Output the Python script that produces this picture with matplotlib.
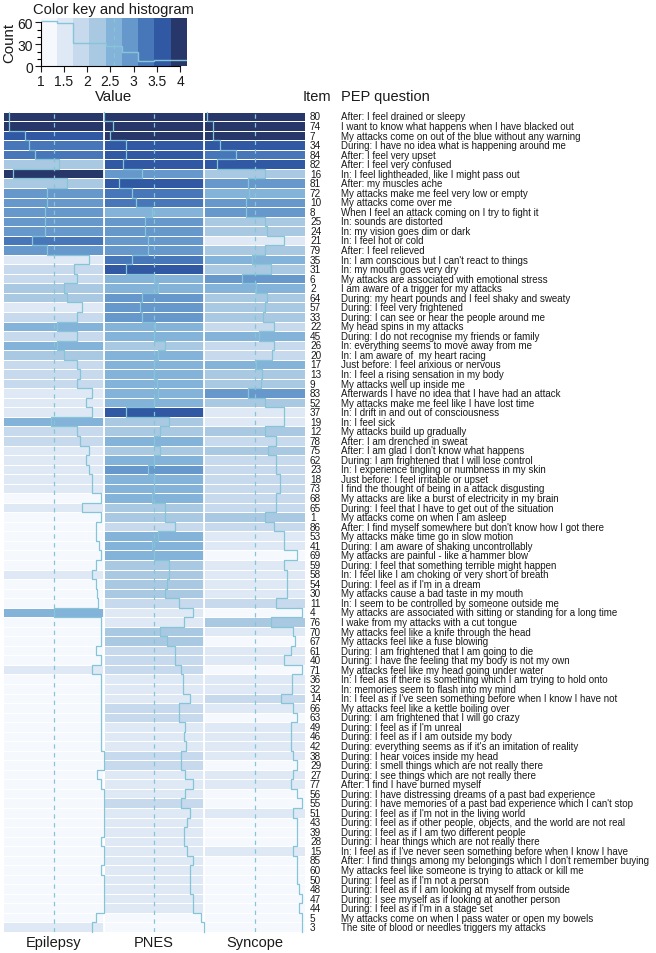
import numpy as np
import matplotlib
matplotlib.use("Agg")
import matplotlib.pyplot as plt
from matplotlib import font_manager as fm
from matplotlib.colors import ListedColormap, BoundaryNorm

# drop the narrow variant so "Liberation Sans" resolves to the regular width
fm.fontManager.ttflist = [f for f in fm.fontManager.ttflist if 'Narrow' not in f.fname]
plt.rcParams['font.family'] = ['Liberation Sans', 'DejaVu Sans']

# item numbers, top to bottom
items = [80, 74, 7, 34, 84, 82, 16, 81, 72, 10, 8, 25, 24, 21, 79, 35, 31, 6, 2, 64,
         57, 33, 22, 45, 26, 20, 17, 13, 9, 83, 52, 37, 19, 12, 78, 75, 62, 23, 18, 73,
         68, 65, 1, 86, 53, 41, 69, 59, 58, 54, 30, 11, 4, 76, 70, 67, 61, 40, 71, 36,
         32, 14, 66, 63, 49, 46, 42, 38, 29, 27, 77, 56, 55, 51, 43, 39, 28, 15, 85, 60,
         50, 48, 47, 44, 5, 3]

questions = [
    "After: I feel drained or sleepy",
    "I want to know what happens when I have blacked out",
    "My attacks come on out of the blue without any warning",
    "During: I have no idea what is happening around me",
    "After: I feel very upset",
    "After: I feel very confused",
    "In: I feel lightheaded, like I might pass out",
    "After: my muscles ache",
    "My attacks make me feel very low or empty",
    "My attacks come over me",
    "When I feel an attack coming on I try to fight it",
    "In: sounds are distorted",
    "In: my vision goes dim or dark",
    "In: I feel hot or cold",
    "After: I feel relieved",
    "In: I am conscious but I can't react to things",
    "In: my mouth goes very dry",
    "My attacks are associated with emotional stress",
    "I am aware of a trigger for my attacks",
    "During: my heart pounds and I feel shaky and sweaty",
    "During: I feel very frightened",
    "During: I can see or hear the people around me",
    "My head spins in my attacks",
    "During: I do not recognise my friends or family",
    "In: everything seems to move away from me",
    "In: I am aware of  my heart racing",
    "Just before: I feel anxious or nervous",
    "In: I feel a rising sensation in my body",
    "My attacks well up inside me",
    "Afterwards I have no idea that I have had an attack",
    "My attacks make me feel like I have lost time",
    "In: I drift in and out of consciousness",
    "In: I feel sick",
    "My attacks build up gradually",
    "After: I am drenched in sweat",
    "After: I am glad I don't know what happens",
    "During: I am frightened that I will lose control",
    "In: I experience tingling or numbness in my skin",
    "Just before: I feel irritable or upset",
    "I find the thought of being in a attack disgusting",
    "My attacks are like a burst of electricity in my brain",
    "During: I feel that I have to get out of the situation",
    "My attacks come on when I am asleep",
    "After: I find myself somewhere but don't know how I got there",
    "My attacks make time go in slow motion",
    "During: I am aware of shaking uncontrollably",
    "My attacks are painful - like a hammer blow",
    "During: I feel that something terrible might happen",
    "In: I feel like I am choking or very short of breath",
    "During: I feel as if I'm in a dream",
    "My attacks cause a bad taste in my mouth",
    "In: I seem to be controlled by someone outside me",
    "My attacks are associated with sitting or standing for a long time",
    "I wake from my attacks with a cut tongue",
    "My attacks feel like a knife through the head",
    "My attacks feel like a fuse blowing",
    "During: I am frightened that I am going to die",
    "During: I have the feeling that my body is not my own",
    "My attacks feel like my head going under water",
    "In: I feel as if there is something which I am trying to hold onto",
    "In: memories seem to flash into my mind",
    "In: I feel as if I've seen something before when I know I have not",
    "My attacks feel like a kettle boiling over",
    "During: I am frightened that I will go crazy",
    "During: I feel as if I'm unreal",
    "During: I feel as if I am outside my body",
    "During: everything seems as if it's an imitation of reality",
    "During: I hear voices inside my head",
    "During: I smell things which are not really there",
    "During: I see things which are not really there",
    "After: I find I have burned myself",
    "During: I have distressing dreams of a past bad experience",
    "During: I have memories of a past bad experience which I can't stop",
    "During: I feel as if I'm not in the living world",
    "During: I feel as if other people, objects, and the world are not real",
    "During: I feel as if I am two different people",
    "During: I hear things which are not really there",
    "In: I feel as if I've never seen something before when I know I have",
    "After: I find things among my belongings which I don't remember buying",
    "My attacks feel like someone is trying to attack or kill me",
    "During: I feel as if I'm not a person",
    "During: I feel as if I am looking at myself from outside",
    "During: I see myself as if looking at another person",
    "During: I feel as if I'm in a stage set",
    "My attacks come on when I pass water or open my bowels",
    "The site of blood or needles triggers my attacks",
]

groups = ["Epilepsy", "PNES", "Syncope"]

epilepsy = [3.96, 3.96, 3.46, 3.36, 3.17, 2.39, 3.85, 2.16, 2.77, 2.77,
            2.85, 2.85, 2.85, 3.25, 2.77, 1.45, 1.95, 1.85, 2.25, 2.16,
            1.67, 1.85, 2.46, 1.85, 2.46, 2.25, 1.85, 1.75, 1.85, 1.38,
            1.56, 1.38, 2.67, 1.85, 1.75, 1.45, 1.56, 1.45, 1.38, 1.38,
            1.09, 1.67, 1.09, 1.25, 1.25, 1.14, 1.09, 1.25, 1.38, 1.25,
            1.20, 1.18, 2.57, 1.09, 1.09, 1.09, 1.25, 1.09, 1.38, 1.09,
            1.09, 1.09, 1.09, 1.09, 1.09, 1.09, 1.09, 1.00, 1.00, 1.20,
            1.09, 1.00, 1.00, 1.00, 1.00, 1.00, 1.09, 1.00, 1.00, 1.09,
            1.00, 1.00, 1.00, 1.00, 1.25, 1.38]
pnes = [4.15, 3.86, 3.97, 3.46, 3.46, 3.55, 2.97, 3.67, 3.28, 3.15,
        2.65, 2.86, 2.86, 2.76, 2.78, 3.27, 3.46, 2.57, 2.46, 2.97,
        3.02, 2.97, 2.56, 2.57, 2.25, 2.46, 2.57, 2.57, 2.48, 2.46,
        2.57, 3.46, 2.10, 2.39, 2.57, 2.38, 2.57, 2.78, 2.57, 2.57,
        2.65, 2.25, 2.25, 1.91, 2.46, 2.65, 2.57, 2.10, 2.10, 2.18,
        2.24, 1.80, 1.37, 1.63, 2.38, 2.18, 1.93, 1.91, 1.73, 1.66,
        1.68, 1.46, 1.80, 1.80, 1.60, 1.63, 1.58, 1.72, 1.72, 1.60,
        1.37, 1.60, 1.72, 1.46, 1.54, 1.63, 1.63, 1.54, 1.37, 1.46,
        1.46, 1.46, 1.37, 1.37, 1.10, 1.02]
syncope = [4.08, 3.87, 3.87, 3.65, 3.15, 3.76, 2.25, 2.78, 2.74, 2.86,
           2.86, 2.25, 2.20, 1.67, 2.26, 2.67, 2.07, 2.96, 2.54, 2.20,
           2.25, 2.32, 1.98, 2.45, 1.98, 2.03, 2.54, 2.35, 2.38, 2.78,
           2.26, 1.67, 1.67, 2.26, 1.91, 2.16, 1.91, 1.91, 1.79, 1.79,
           1.91, 1.91, 2.26, 1.98, 1.67, 1.67, 1.25, 1.66, 1.56, 1.57,
           1.57, 1.90, 1.10, 2.07, 1.37, 1.30, 1.45, 1.67, 1.10, 1.40,
           1.42, 1.75, 1.38, 1.25, 1.45, 1.45, 1.45, 1.38, 1.25, 1.38,
           1.45, 1.25, 1.10, 1.38, 1.25, 1.25, 1.25, 1.38, 1.25, 1.25,
           1.25, 1.18, 1.10, 1.18, 1.10, 1.10]

key_colors = ['#f5f9fe', '#dfe9f5', '#c7d9ec', '#a9c9e2', '#84b3da',
              '#6698cc', '#4877b9', '#3158a3', '#283769']
trace_col = '#86c4d8'
txt_col = '#1a1a1a'

data = np.column_stack([epilepsy, pnes, syncope])
nrow, ncol = data.shape
vmin, vmax = data.min(), data.max()
breaks = np.linspace(vmin, vmax, len(key_colors) + 1)
cmap = ListedColormap(key_colors)
norm = BoundaryNorm(breaks, cmap.N)

W, H = 656, 954
fig = plt.figure(figsize=(W / 100, H / 100), dpi=100)

# ---- heatmap ----
left, right, top, bottom = 3.3, 305, 112.7, 933
ax = fig.add_axes([left / W, 1 - bottom / H, (right - left) / W, (bottom - top) / H])
ax.pcolormesh(np.arange(ncol + 1), np.arange(nrow + 1), data, cmap=cmap, norm=norm,
              edgecolors='white', linewidth=0.6)
for j in range(1, ncol):
    ax.axvline(j, color='white', lw=1.3)
ax.set_xlim(0, ncol)
ax.set_ylim(nrow, 0)
ax.axis('off')

# column traces (step lines) and centre dashed lines
for j in range(ncol):
    ax.axvline(j + 0.5, color=trace_col, lw=0.9, ls=(0, (3.5, 3.5)))
    xv = j + (vmax - data[:, j]) / (vmax - vmin)
    xs = np.repeat(xv, 2)
    ys = np.column_stack([np.arange(nrow), np.arange(nrow) + 1]).ravel()
    ax.plot(xs, ys, color=trace_col, lw=0.9, clip_on=False)

unit = (right - left) / ncol
x_item = (310 - left) / unit
x_q = (341 - left) / unit
for i in range(nrow):
    ax.text(x_item, i + 0.5, str(items[i]), fontsize=7.2, color=txt_col,
            ha='left', va='center', clip_on=False)
    ax.text(x_q, i + 0.5, questions[i], fontsize=7.0, color=txt_col,
            ha='left', va='center', clip_on=False)

ax.text((303 - left) / unit, -1.6, "Item", fontsize=10.5, color=txt_col,
        ha='left', va='center', clip_on=False)
ax.text(x_q, -1.6, "PEP question", fontsize=10.5, color=txt_col,
        ha='left', va='center', clip_on=False)
for j, g in enumerate(groups):
    ax.text(j + 0.5, nrow + 1.05, g, fontsize=10.5, color=txt_col,
            ha='center', va='center', clip_on=False)

# ---- colour key with histogram ----
kl, kr, kt, kb = 40.7, 187, 19.3, 67.3
kax = fig.add_axes([kl / W, 1 - kb / H, (kr - kl) / W, (kb - kt) / H])
counts, _ = np.histogram(data.ravel(), bins=breaks)
ktop = counts.max() / 0.95
kax.pcolormesh(breaks, [0, ktop], ((breaks[:-1] + breaks[1:]) / 2)[None, :],
               cmap=cmap, norm=norm)
kax.axvline((vmin + vmax) / 2, color=trace_col, lw=0.9, ls=(0, (3.5, 3.5)))
kax.stairs(counts, breaks, baseline=None, color=trace_col, lw=1.0)
kax.set_xlim(vmin, vmax)
kax.set_ylim(0, ktop)
kax.set_xticks([1, 1.5, 2, 2.5, 3, 3.5, 4])
kax.set_xticklabels(['1', '1.5', '2', '2.5', '3', '3.5', '4'])
kax.set_yticks([0, 30, 60])
kax.set_yticks([10, 20, 40, 50], minor=True)
kax.tick_params(labelsize=10, colors=txt_col, length=4, width=0.8, pad=1.5)
kax.tick_params(which='minor', length=3, width=0.8)
for s in ['top', 'right']:
    kax.spines[s].set_visible(False)
kax.spines['bottom'].set_bounds(1, 4)
kax.spines['left'].set_bounds(0, 60)
kax.spines['bottom'].set_linewidth(0.8)
kax.spines['left'].set_linewidth(0.8)
kax.set_xlabel("Value", fontsize=10.8, color=txt_col, labelpad=1)
kax.set_ylabel("Count", fontsize=10.8, color=txt_col, labelpad=1)
kax.set_title("Color key and histogram", fontsize=10.6, color=txt_col, pad=4)

fig.savefig("out.png", dpi=100)
